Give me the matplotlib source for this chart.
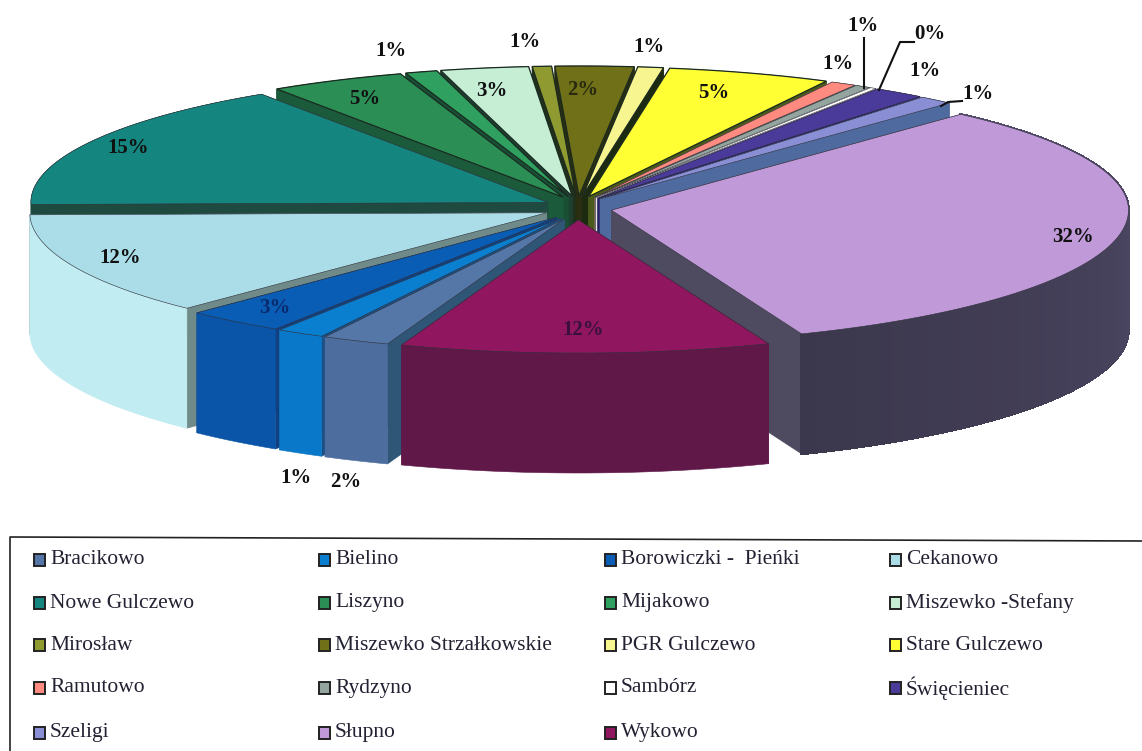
import numpy as np
import matplotlib
matplotlib.use("Agg")
import matplotlib.pyplot as plt
from matplotlib.patches import Polygon, Rectangle

names = ["Bracikowo", "Bielino", "Borowiczki -  Pieńki", "Cekanowo", "Nowe Gulczewo",
         "Liszyno", "Mijakowo", "Miszewko -Stefany", "Mirosław", "Miszewko Strzałkowskie",
         "PGR Gulczewo", "Stare Gulczewo", "Ramutowo", "Rydzyno", "Sambórz", "Święcieniec",
         "Szeligi", "Słupno", "Wykowo"]
values = [2.1, 1.5, 3.1, 12.5, 15.9, 4.25, 1.0, 2.75, 0.6, 2.45, 0.8, 5.1, 0.8, 0.5, 0.2, 1.6, 1.1, 32.2, 11.55]
labels = ["2%", "1%", "3%", "12%", "15%", "5%", "1%", "3%", "1%", "2%", "1%", "5%", "1%", "1%", "0%", "1%", "1%", "32%", "12%"]

top_colors = ["#5577a8", "#0a7fd0", "#0a5db5", "#aadde8", "#15857f", "#2b8f55", "#30a060", "#c5eed5",
              "#8f9a30", "#6f7018", "#f7f590", "#ffff33", "#ff8a80", "#94a5a0", "#ffffff", "#4a3a9a",
              "#8a8fd5", "#c09ad8", "#90175f"]
rim_colors = ["#4d6d9e", "#0a78c8", "#0a55a8", "#c0ecf2", "#1e4a40", "#1b5a3a", "#184f35", "#1f3f30",
              "#20301a", "#2a2e10", "#1c2a10", "#4a5a1a", "#806058", "#56625c", "#cccccc", "#302670",
              "#4f6a9f", "#4a4560", "#5f1848"]
cut_colors = ["#2f5577", "#1c4f86", "#123f80", "#6f8a88", "#1e4a40", "#1b5a3a", "#184f35", "#1f3f30",
              "#20301a", "#2a2e10", "#1c2a10", "#4a5a1a", "#806058", "#56625c", "#e8e8e8", "#262060",
              "#4f6a9f", "#4e4a60", "#5f1848"]

# Layout (pixels)
W, H = 1142, 751
CX, CY = 578, 208
R, RY_UP, RY_DOWN = 517, 130, 133
EX, EY = 34, 12
DEPTH = 120
START = 20.0

label_xy = [(346, 482), (296, 478), (275, 308), (120, 258), (128, 148), (365, 99), (391, 51), (492, 91),
            (525, 42), (583, 90), (649, 47), (714, 93), (838, 64), (863, 26), (930, 34), (925, 71),
            (978, 94), (1073, 237), (583, 330)]
label_colors = {2: "#0a2a70", 9: "#2a2a10", 18: "#3a1040"}
leaders = [[(864, 38), (864, 88)], [(914, 42), (900, 42), (879, 90)], [(962, 101), (948, 102), (941, 106)]]

fig = plt.figure(figsize=(W / 100, H / 100), dpi=100, facecolor="white")
ax = fig.add_axes([0, 0, 1, 1])
ax.set_xlim(0, W)
ax.set_ylim(H, 0)
ax.axis("off")


def rim_point(apex, deg):
    t = np.radians(deg)
    c = np.cos(t)
    return (apex[0] - R * np.sin(t), apex[1] + (RY_DOWN if c > 0 else RY_UP) * c)


def quad(a, b, color, z, aa=True, lw=0.4):
    pts = [a, b, (b[0], b[1] + DEPTH), (a[0], a[1] + DEPTH)]
    ax.add_patch(Polygon(pts, closed=True, fc=color, ec=color, lw=lw, antialiased=aa, zorder=z))


edges = START + np.cumsum([0] + values) * 3.6
slices = []
for i in range(len(values)):
    a0, a1 = edges[i], edges[i + 1]
    phi = np.radians((a0 + a1) / 2)
    apex = (CX - EX * np.sin(phi), CY + EY * np.cos(phi))
    depth_key = apex[1] + np.cos(phi) * 100
    slices.append((depth_key, i, a0, a1, apex))

for z, (_, i, a0, a1, apex) in enumerate(sorted(slices, key=lambda s: s[0])):
    base = 10 + z * 4
    p0, p1 = rim_point(apex, a0), rim_point(apex, a1)
    quad(apex, p0, cut_colors[i], base)
    quad(apex, p1, cut_colors[i], base)
    arc = [rim_point(apex, d) for d in np.linspace(a0, a1, max(4, int((a1 - a0) * 2)))]
    if i == 17:
        rim_rgb = np.array(matplotlib.colors.to_rgb(rim_colors[i]))
        for k in range(len(arc) - 1):
            f = 1.15 - 0.35 * k / max(1, len(arc) - 2)
            quad(arc[k], arc[k + 1], tuple(np.clip(rim_rgb * f, 0, 1)), base + 1, aa=False, lw=1.2)
    else:
        lower = [(x, y + DEPTH) for x, y in arc][::-1]
        ax.add_patch(Polygon(arc + lower, closed=True, fc=rim_colors[i], ec=rim_colors[i], lw=0.4, zorder=base + 1))
    upper = 5 <= i <= 11
    ax.add_patch(Polygon([apex] + arc, closed=True, fc=top_colors[i],
                         ec="#1a2a20" if upper else "#30303a", lw=0.9 if upper else 0.4, zorder=base + 2))

for i, (x, y) in enumerate(label_xy):
    ax.text(x, y, labels[i], ha="center", va="center", fontsize=15, fontweight="bold",
            family="Liberation Serif", color=label_colors.get(i, "#111111"), zorder=200)
for pts in leaders:
    xs, ys = zip(*pts)
    ax.plot(xs, ys, color="#111111", lw=1.5, zorder=201)

# Legend
ax.plot([1142, 10, 10], [541, 537, 751], color="#222222", lw=1.2, zorder=5)
col_x = [34, 319, 605, 890]
row_y = [560, 603, 645, 688, 733]
for i, name in enumerate(names):
    r, c = i // 4, i % 4
    ax.add_patch(Rectangle((col_x[c], row_y[r] - 6), 11, 12, fc=top_colors[i], ec="#222222", lw=1.4, zorder=5))
    ax.text(col_x[c] + 16, row_y[r], name, ha="left", va="center", fontsize=15.5,
            family="Liberation Serif", color="#222233", zorder=5)

fig.savefig("out.png", dpi=100)
